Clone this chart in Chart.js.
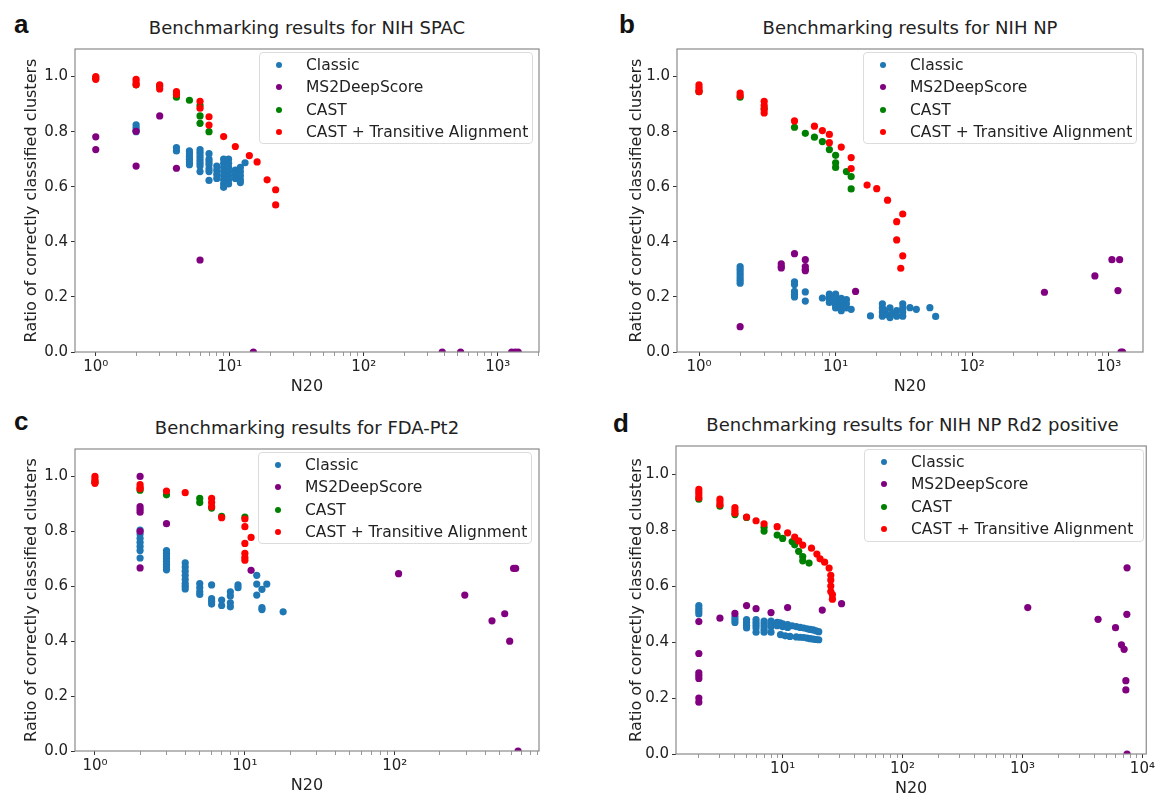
<!DOCTYPE html>
<html>
<head>
<meta charset="utf-8">
<script src="https://cdn.jsdelivr.net/npm/chart.js@4.4.1/dist/chart.umd.min.js"></script>
<style>
	body { margin: 0; background: #fff; width: 1160px; height: 794px; position: relative; overflow: hidden; font-family: "DejaVu Sans", sans-serif; color: #222; }
	.letter { position: absolute; font: bold 26px "Liberation Sans", Arial, sans-serif; color: #111; line-height: 30px; }
	.title { position: absolute; font-size: 18px; line-height: 22px; text-align: center; white-space: nowrap; color: #222; }
	.chart { position: absolute; }
	.legend { position: absolute; box-sizing: border-box; border: 1px solid #dcdcdc; border-radius: 4px; background: rgba(255,255,255,0.85); }
	.legend .dot { position: absolute; width: 6px; height: 6px; border-radius: 50%; }
	.legend .txt { position: absolute; font-size: 15.5px; line-height: 20px; white-space: nowrap; color: #222; }
</style>
</head>
<body>
<script>
// Series names and colours (matplotlib defaults used in the figure)
var SERIES = ["Classic", "MS2DeepScore", "CAST", "CAST + Transitive Alignment"];
var COLORS = ["#1f77b4", "#800080", "#008000", "#ff0000"];

// Axis ticks
var Y_TICKS = [0, 0.2, 0.4, 0.6, 0.8, 1.0];
var X_DECADES = [1, 10, 100, 1000, 10000];
var X_DECADE_LABELS = ["10\u2070", "10\u00b9", "10\u00b2", "10\u00b3", "10\u2074"];

// Panel a: NIH SPAC  ([N20, ratio])
var aClassic = [[2,0.825],[2,0.815],[2,0.805],[2,0.80],[4,0.742],[4,0.73],
	[5,0.73],[5,0.72],[5,0.71],[5,0.70],[5,0.69],[5,0.68],
	[6,0.735],[6,0.725],[6,0.715],[6,0.705],[6,0.695],[6,0.685],[6,0.675],[6,0.655],
	[7,0.72],[7,0.70],[7,0.69],[7,0.68],[7,0.665],[7,0.655],[7,0.623],
	[8,0.675],[8,0.66],[8,0.645],[8,0.63],
	[9,0.70],[9,0.685],[9,0.67],[9,0.655],[9,0.64],[9,0.625],[9,0.61],[9,0.598],
	[9.8,0.70],[9.8,0.685],[9.8,0.67],[9.8,0.655],[9.8,0.64],[9.8,0.625],[9.8,0.61],
	[11,0.66],[11,0.645],[11,0.63],[12,0.67],[12,0.655],[12,0.64],[12,0.625],[12,0.615],[13,0.687]];
var aMs2 = [[1,0.781],[1,0.735],[2,0.801],[2,0.675],[3,0.857],[4,0.667],[6,0.334],
	[15,0],[385,0],[528,0],[1270,0],[1350,0],[1420,0]];
var aCast = [[1,0.995],[2,0.97],[3,0.965],[4,0.925],[5,0.914],[6,0.895],[6,0.857],[6,0.83],[7,0.80]];
var aCastTA = [[1,1.0],[1,0.99],[2,0.99],[2,0.98],[2,0.97],[3,0.97],[3,0.955],[4,0.945],[4,0.935],
	[6,0.91],[6,0.885],[7,0.854],[7,0.824],[9,0.782],[11,0.746],[14,0.713],[16,0.69],[19,0.625],[22,0.589],[22,0.534]];

// Panel b: NIH NP
var bClassic = [[2,0.31],[2,0.30],[2,0.29],[2,0.28],[2,0.27],[2,0.26],[2,0.25],
	[5,0.255],[5,0.245],[5,0.22],[5,0.21],[5,0.20],[6,0.218],[6,0.185],[8,0.196],
	[9,0.21],[9,0.20],[9,0.19],[9,0.18],[10,0.21],[10,0.195],[10,0.18],[10,0.17],[10,0.16],
	[11,0.195],[11,0.18],[11,0.165],[11,0.15],[12,0.19],[12,0.175],[12,0.16],[13,0.155],
	[18,0.131],[22,0.175],[22,0.16],[22,0.145],[22,0.13],[23,0.15],[24,0.135],[25,0.125],[25,0.16],[26,0.14],
	[28,0.15],[28,0.13],[31,0.175],[31,0.16],[31,0.145],[31,0.13],[35,0.161],[39,0.155],[49,0.161],[54,0.129]];
var bMs2 = [[2,0.092],[4,0.32],[4,0.31],[4,0.305],[5,0.357],[6,0.335],[6,0.31],[6,0.30],[6,0.295],[14,0.22],
	[338,0.217],[791,0.276],[1054,0.335],[1200,0.335],[1167,0.223],[1230,0],[1260,0]];
var bCast = [[1,0.945],[2,0.925],[3,0.885],[5,0.816],[6,0.794],[7,0.78],[8,0.764],[9,0.735],
	[10,0.714],[10,0.687],[10,0.67],[12,0.655],[13,0.637],[13,0.592]];
var bCastTA = [[1,0.97],[1,0.96],[1,0.95],[1,0.945],[2,0.94],[2,0.93],[3,0.91],[3,0.895],[3,0.88],[3,0.868],
	[5,0.839],[7,0.82],[8,0.804],[9,0.79],[9,0.76],[11,0.744],[13,0.706],[13,0.666],[17,0.606],[20,0.593],
	[24,0.551],[31,0.501],[28,0.473],[28,0.407],[31,0.349],[30,0.304]];

// Panel c: FDA-Pt2
var cClassic = [[2,0.805],[2,0.79],[2,0.775],[2,0.76],[2,0.745],[2,0.73],[2,0.703],
	[3,0.73],[3,0.72],[3,0.71],[3,0.70],[3,0.69],[3,0.68],[3,0.67],[3,0.66],
	[4,0.685],[4,0.67],[4,0.655],[4,0.64],[4,0.625],[4,0.61],[4,0.60],[4,0.59],
	[5,0.61],[5,0.595],[5,0.58],[5,0.57],[6,0.605],[6,0.555],[6,0.545],[6,0.535],[7,0.55],[7,0.53],
	[8,0.58],[8,0.565],[8,0.54],[8,0.525],[9,0.605],[9,0.595],[12,0.64],[12,0.608],[12,0.568],
	[13,0.589],[13,0.522],[13,0.515],[14,0.608],[18,0.507]];
var cMs2 = [[2,1.0],[2,0.89],[2,0.88],[2,0.87],[2,0.80],[2,0.667],[3,0.828],[11,0.658],
	[106,0.646],[293,0.568],[445,0.474],[541,0.50],[584,0.40],[620,0.665],[640,0.665],[664,0]];
var cCast = [[1,0.98],[2,0.95],[3,0.933],[5,0.92],[5,0.905],[6,0.885],[7,0.855],[10,0.852]];
var cCastTA = [[1,1.0],[1,0.99],[1,0.98],[1,0.975],[2,0.97],[2,0.96],[2,0.955],[3,0.947],[4,0.941],
	[6,0.92],[6,0.905],[6,0.89],[7,0.85],[10,0.845],[10,0.817],[10,0.756],[10,0.72],[10,0.705],[10,0.695],[11,0.778]];

// Panel d: NIH NP Rd2 positive
var dClassic = [[2,0.53],[2,0.52],[2,0.51],[2,0.50],[4,0.49],[4,0.48],[4,0.47],
	[5,0.48],[5,0.47],[5,0.46],[5,0.45],[6,0.48],[6,0.47],[6,0.46],[6,0.45],[6,0.435],
	[7,0.475],[7,0.465],[7,0.455],[7,0.445],[7,0.435],[8,0.475],[8,0.465],[8,0.455],[8,0.435],
	[9,0.47],[9.5,0.468],[10,0.465],[11,0.462],[12,0.458],[13,0.455],[14,0.452],[15,0.45],[16,0.447],
	[17,0.445],[18,0.443],[19,0.44],[20,0.437],[9,0.458],[10,0.455],[11,0.452],
	[9.6,0.426],[10.5,0.422],[11.5,0.42],[13,0.418],[14,0.417],[15,0.416],[16,0.414],[17,0.412],
	[18,0.41],[19,0.409],[20,0.408]];
var dMs2 = [[2,0.473],[2,0.359],[2,0.29],[2,0.28],[2,0.27],[2,0.20],[2,0.185],[3,0.485],[4,0.502],
	[5,0.53],[6,0.519],[8,0.505],[11,0.523],[21.4,0.514],[31,0.537],[1107,0.523],[4270,0.481],
	[5970,0.451],[6690,0.39],[7040,0.374],[7420,0.499],[7280,0.262],[7280,0.229],[7450,0.665],[7450,0]];
var dCast = [[2,0.91],[3,0.885],[4,0.855],[5,0.845],[7,0.81],[7,0.796],[9,0.782],[10,0.77],[12,0.759],
	[12.6,0.747],[13.6,0.724],[14.7,0.705],[14.7,0.69],[16.6,0.682]];
var dCastTA = [[2,0.945],[2,0.935],[2,0.925],[2,0.915],[3,0.91],[3,0.90],[3,0.89],[4,0.88],[4,0.87],[4,0.86],
	[5,0.846],[6,0.833],[7,0.822],[9,0.812],[11,0.79],[12.6,0.775],[13.6,0.761],[14.7,0.746],[17.4,0.735],
	[19.3,0.714],[20.5,0.697],[22.4,0.685],[24.4,0.664],[25.2,0.638],[25.2,0.621],[25.2,0.60],[25.2,0.58],
	[26,0.569],[26,0.553]];

// Layout of the four panels (plot box in page pixels)
var PANELS = [
	{ letter: "a", letterPos: [14, 9], title: "Benchmarking results for NIH SPAC",
		series: [aClassic, aMs2, aCast, aCastTA], xMin: 0.70, xMax: 2030,
		box: { l: 75, t: 43, r: 539, b: 352 }, labelX: 32, legend: { l: 259, t: 52, w: 274, h: 92 } },
	{ letter: "b", letterPos: [619, 9], title: "Benchmarking results for NIH NP",
		series: [bClassic, bMs2, bCast, bCastTA], xMin: 0.69, xMax: 1780,
		box: { l: 677, t: 43, r: 1143, b: 352 }, labelX: 637, legend: { l: 863, t: 52, w: 274, h: 92 } },
	{ letter: "c", letterPos: [14, 406], title: "Benchmarking results for FDA-Pt2",
		series: [cClassic, cMs2, cCast, cCastTA], xMin: 0.736, xMax: 916,
		box: { l: 75, t: 443, r: 539, b: 751 }, labelX: 32, legend: { l: 258, t: 452, w: 274, h: 92 } },
	{ letter: "d", letterPos: [613, 408], title: "Benchmarking results for NIH NP Rd2 positive",
		series: [dClassic, dMs2, dCast, dCastTA], xMin: 1.29, xMax: 10770,
		box: { l: 676, t: 440, r: 1149, b: 754 }, labelX: 637, legend: { l: 864, t: 449, w: 280, h: 93 } }
];

// Draw the axes frame around the plot area (matplotlib spines)
var framePlugin = {
	id: "frame",
	afterDatasetsDraw: function(chart) {
		var a = chart.chartArea, ctx = chart.ctx;
		ctx.save();
		ctx.strokeStyle = "#8a8a8a";
		ctx.lineWidth = 1.2;
		ctx.strokeRect(a.left, a.top, a.right - a.left, a.bottom - a.top);
		ctx.restore();
	}
};

function logTicks(min, max) {
	var out = [];
	for (var d = 0; d < X_DECADES.length; d++) {
		for (var k = 1; k <= 9; k++) {
			var v = k === 1 ? X_DECADES[d] : k * X_DECADES[d];
			if (v >= min && v <= max) out.push({ value: v });
		}
	}
	return out;
}

function makeLegend(p) {
	var box = document.createElement("div");
	box.className = "legend";
	box.style.left = p.legend.l + "px";
	box.style.top = p.legend.t + "px";
	box.style.width = p.legend.w + "px";
	box.style.height = p.legend.h + "px";
	for (var i = 0; i < SERIES.length; i++) {
		var cy = 12 + i * 22.3;
		var dot = document.createElement("span");
		dot.className = "dot";
		dot.style.background = COLORS[i];
		dot.style.left = (19 - 3) + "px";
		dot.style.top = (cy - 3) + "px";
		box.appendChild(dot);
		var txt = document.createElement("span");
		txt.className = "txt";
		txt.textContent = SERIES[i];
		txt.style.left = "46px";
		txt.style.top = (cy - 10) + "px";
		box.appendChild(txt);
	}
	document.body.appendChild(box);
}

function makePanel(p) {
	var canvasL = p.labelX - 32;
	var yW = p.box.l - canvasL;
	var padT = 6, padR = 8, xH = 48;
	var w = p.box.r - canvasL + padR;
	var h = p.box.b - p.box.t + padT + xH;

	var letter = document.createElement("div");
	letter.className = "letter";
	letter.textContent = p.letter;
	letter.style.left = p.letterPos[0] + "px";
	letter.style.top = p.letterPos[1] + "px";
	document.body.appendChild(letter);

	var title = document.createElement("div");
	title.className = "title";
	title.textContent = p.title;
	title.style.left = p.box.l + "px";
	title.style.width = (p.box.r - p.box.l) + "px";
	title.style.top = (p.box.t - 26) + "px";
	document.body.appendChild(title);

	var wrap = document.createElement("div");
	wrap.className = "chart";
	wrap.style.left = canvasL + "px";
	wrap.style.top = (p.box.t - padT) + "px";
	var cv = document.createElement("canvas");
	cv.width = w;
	cv.height = h;
	cv.style.width = w + "px";
	cv.style.height = h + "px";
	wrap.appendChild(cv);
	document.body.appendChild(wrap);

	var datasets = [];
	for (var i = 0; i < SERIES.length; i++) {
		datasets.push({
			label: SERIES[i],
			data: p.series[i].map(function(pt) { return { x: pt[0], y: pt[1] }; }),
			backgroundColor: COLORS[i],
			borderWidth: 0,
			pointRadius: 3.6,
			pointHoverRadius: 3.6,
			order: SERIES.length - i
		});
	}

	new Chart(cv, {
		type: "scatter",
		data: { datasets: datasets },
		plugins: [framePlugin],
		options: {
			responsive: false,
			animation: false,
			devicePixelRatio: 1,
			layout: { padding: { top: padT, right: padR, left: 0, bottom: 0 } },
			plugins: { legend: { display: false }, tooltip: { enabled: false } },
			scales: {
				x: {
					type: "logarithmic",
					min: p.xMin,
					max: p.xMax,
					bounds: "data",
					afterBuildTicks: function(axis) { axis.ticks = logTicks(p.xMin, p.xMax); },
					afterFit: function(s) { s.height = xH; },
					border: { display: false },
					grid: {
						drawOnChartArea: false,
						drawTicks: true,
						tickLength: 4,
						tickColor: function(c) { return X_DECADES.indexOf(c.tick && c.tick.value) >= 0 ? "#333" : "#999"; }
					},
					ticks: {
						autoSkip: false,
						maxRotation: 0,
						padding: 2,
						color: "#222",
						font: { family: "DejaVu Sans", size: 15 },
						callback: function(v) {
							var k = X_DECADES.indexOf(v);
							return k >= 0 ? X_DECADE_LABELS[k] : "";
						}
					},
					title: {
						display: true,
						text: "N20",
						color: "#222",
						font: { family: "DejaVu Sans", size: 16 },
						padding: { top: 0, bottom: 4 }
					}
				},
				y: {
					type: "linear",
					min: 0,
					max: 1.1,
					afterBuildTicks: function(axis) { axis.ticks = Y_TICKS.map(function(v) { return { value: v }; }); },
					afterFit: function(s) { s.width = yW; },
					border: { display: false },
					grid: { drawOnChartArea: false, drawTicks: true, tickLength: 4, tickColor: "#333" },
					ticks: {
						padding: 3,
						color: "#222",
						font: { family: "DejaVu Sans", size: 15 },
						callback: function(v) { return Number(v).toFixed(1); }
					},
					title: {
						display: true,
						text: "Ratio of correctly classified clusters",
						color: "#222",
						font: { family: "DejaVu Sans", size: 16 },
						padding: { top: 22, bottom: 0 }
					}
				}
			}
		}
	});

	makeLegend(p);
}

for (var i = 0; i < PANELS.length; i++) makePanel(PANELS[i]);
</script>
</body>
</html>
